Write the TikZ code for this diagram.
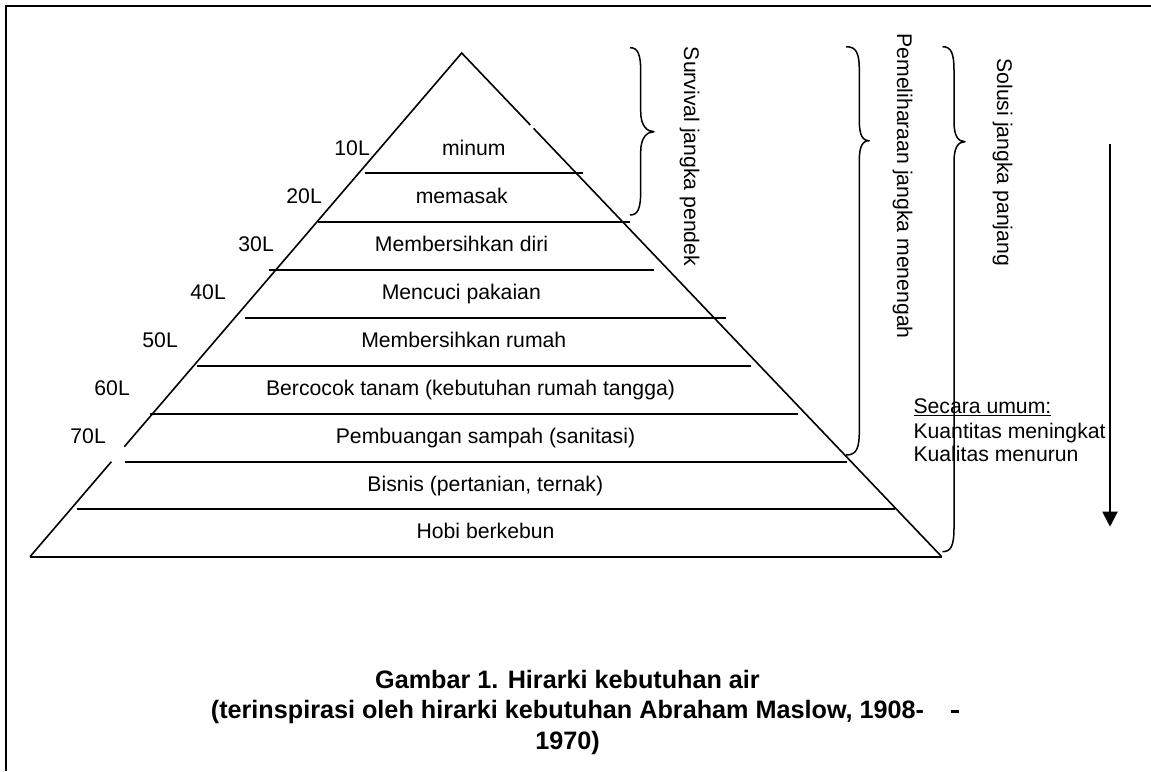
\documentclass[tikz,border=0pt]{standalone}
\usepackage{fontspec}
\setmainfont{Liberation Sans}
\usetikzlibrary{arrows.meta}
\newcommand\mybrace[6]{\draw[brc] (#1,#4) .. controls ({#2-3},#4) and (#2,{#4+6}) .. (#2,{#4+24}) -- (#2,{#5-20}) .. controls (#2,{#5-6}) and ({#3-7},#5) .. (#3,#5) .. controls ({#3-7},#5) and (#2,{#5+6}) .. (#2,{#5+20}) -- (#2,{#6-24}) .. controls (#2,{#6-6}) and ({#2-3},#6) .. (#1,#6);}
\begin{document}
\begin{tikzpicture}[x=1pt,y=-1pt,
  lbl/.style={font=\fontsize{21.2}{24}\selectfont, inner sep=0pt, anchor=base},
  lft/.style={lbl, anchor=base east},
  rgt/.style={lbl, anchor=base west},
  vlbl/.style={lbl, anchor=base west, rotate=-90},
  capt/.style={font=\fontsize{25.2}{30}\selectfont\bfseries, inner sep=0pt, anchor=base},
  ln/.style={line width=1.8pt},
  side/.style={line width=1.6pt},
  brc/.style={line width=1.5pt, line join=round},
  frame/.style={line width=2.2pt}]
\useasboundingbox (0,0) rectangle (1151,771);
% frame
\draw[frame] (6,771) -- (6,6) -- (1151,6);
% pyramid
\coordinate (apex) at (461.7,53);
\coordinate (bl) at (30,556.7);
\coordinate (br) at (941.7,556.7);
\draw[side] (bl) -- (111.4,461.7);
\draw[side] (124.3,446.7) -- (apex) -- (530.3,125);
\draw[side] (533.5,128.3) -- (br);
\draw[ln] (bl) -- (br);
\draw[ln] (365,173.3) -- (582.7,173.3);
\draw[ln] (318.3,221.7) -- (630,221.7);
\draw[ln] (269.3,270) -- (654,270);
\draw[ln] (245,317.7) -- (726,317.7);
\draw[ln] (196.7,365.7) -- (750.7,365.7);
\draw[ln] (150,413.7) -- (798.3,413.7);
\draw[ln] (125,461.7) -- (846.7,461.7);
\draw[ln] (77.3,509.3) -- (895,509.3);
% row labels
\node[lbl] (r1) at (473.8,155) {minum};
\node[lbl] (r2) at (461.7,203.4) {memasak};
\node[lbl] (r3) at (461.5,251.7) {Membersihkan diri};
\node[lbl] (r4) at (461.3,299.4) {Mencuci pakaian};
\node[lbl] (r5) at (463.8,347.4) {Membersihkan rumah};
\node[lbl] (r6) at (470.5,395.4) {Bercocok tanam (kebutuhan rumah tangga)};
\node[lbl] (r7) at (485.5,443.4) {Pembuangan sampah (sanitasi)};
\node[lbl] (r8) at (485.3,491) {Bisnis (pertanian, ternak)};
\node[lbl] (r9) at (485.5,538.4) {Hobi berkebun};
% volume labels
\node[lft] (v1) at (370,155) {10L};
\node[lft] (v2) at (322,203.4) {20L};
\node[lft] (v3) at (274,251) {30L};
\node[lft] (v4) at (226,299) {40L};
\node[lft] (v5) at (178,347) {50L};
\node[lft] (v6) at (130,395) {60L};
\node[lft] (v7) at (106,443) {70L};
% braces
\mybrace{630}{640.7}{654}{47.7}{131.7}{215}
\mybrace{846}{859.3}{869.3}{46.7}{140.7}{455}
\mybrace{942.5}{954}{965}{46.7}{141.7}{551.7}
% vertical labels
\node[vlbl] (t1) at (684,46.7) {Survival jangka pendek};
\node[vlbl] (t2) at (897,33.3) {Pemeliharaan jangka menengah};
\node[vlbl] (t3) at (997,58.3) {Solusi jangka panjang};
% note
\node[rgt] (n1) at (913.3,413.3) {\underline{Secara umum:}};
\node[rgt] (n2) at (913.3,438.3) {Kuantitas meningkat};
\node[rgt] (n3) at (913.3,461.7) {Kualitas menurun};
% arrow
\coordinate (a1) at (1110,144);
\coordinate (a2) at (1110,526.7);
\draw[line width=2pt,-{Triangle[width=15pt,length=15pt]}] (a1) -- (a2);
% caption
\node[capt] (c1) at (567.5,688.3) {Gambar 1. Hirarki kebutuhan air};
\node[capt] (c2) at (567.5,718.3) {(terinspirasi oleh hirarki kebutuhan Abraham Maslow, 1908-};
\node[capt] (c3) at (567.5,749.3) {1970)};
\fill (951,709.5) rectangle (958.5,713);
\end{tikzpicture}
\end{document}
